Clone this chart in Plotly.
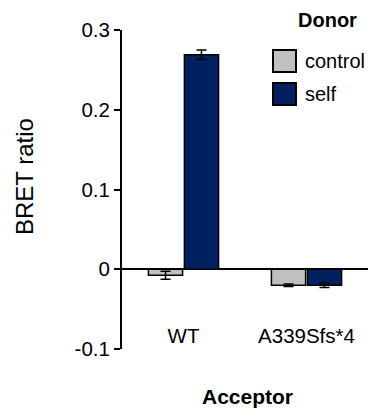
import plotly.graph_objects as go

# ---- data ----
acceptors = ["WT", "A339Sfs*4"]
donors = ["control", "self"]
control_vals = [-0.0075, -0.020]
control_err = [0.005, 0.0015]
self_vals = [0.269, -0.020]
self_err = [0.006, 0.003]
ytick_vals = [0.3, 0.2, 0.1, 0, -0.1]
ytick_text = ["0.3", "0.2", "0.1", "0", "-0.1"]

colors = {"control": "#C0C0C0", "self": "#00205F"}
FONT = "Liberation Sans, Arial, sans-serif"

fig = go.Figure()
for name, vals, errs in [("control", control_vals, control_err), ("self", self_vals, self_err)]:
    fig.add_trace(go.Bar(
        x=acceptors, y=vals, name=name,
        marker=dict(color=colors[name], line=dict(color="black", width=1.5)),
        error_y=dict(type="data", array=errs, color="black", thickness=1.5, width=5),
        showlegend=False,
    ))

W, H = 371, 414
ml, mr, mt, mb = 122, 3, 30, 65
pw, ph = W - ml - mr, H - mt - mb

def px(x):
    return (x - ml) / pw

def py(y):
    return (H - mb - y) / ph

fig.update_layout(
    width=W, height=H,
    margin=dict(l=ml, r=mr, t=mt, b=mb),
    paper_bgcolor="white", plot_bgcolor="white",
    barmode="group", bargap=0.415, bargroupgap=0.05,
    font=dict(family=FONT, color="black", size=20),
    xaxis=dict(
        showline=False, showgrid=False, zeroline=False, ticks="",
        anchor="free", position=0.085,
        tickfont=dict(size=20.5), range=[-0.5, 1.5],
    ),
    yaxis=dict(
        range=[-0.1, 0.3], tickvals=ytick_vals, ticktext=ytick_text,
        showline=True, linecolor="black", linewidth=2,
        ticks="outside", ticklen=6, tickwidth=2, tickcolor="black",
        showgrid=False, zeroline=True, zerolinecolor="black", zerolinewidth=2,
        tickfont=dict(size=20.5),
    ),
)

annotations = [
    dict(text="BRET ratio", xref="paper", yref="paper", x=px(24), y=py(177),
         textangle=-90, showarrow=False, font=dict(size=24), xanchor="center", yanchor="middle"),
    dict(text="<b>Acceptor</b>", xref="paper", yref="paper", x=px(247), y=py(397),
         showarrow=False, font=dict(size=21), xanchor="center", yanchor="middle"),
    dict(text="<b>Donor</b>", xref="paper", yref="paper", x=px(327), y=py(20),
         showarrow=False, font=dict(size=20), xanchor="center", yanchor="middle"),
]
shapes = []
legend_rows = [(50, 72), (83, 105)]
for name, (y0, y1) in zip(donors, legend_rows):
    shapes.append(dict(type="rect", xref="paper", yref="paper",
                       x0=px(273), x1=px(296), y0=py(y1), y1=py(y0),
                       fillcolor=colors[name], line=dict(color="black", width=2)))
    annotations.append(dict(text=name, xref="paper", yref="paper", x=px(303), y=py((y0 + y1) / 2),
                            showarrow=False, font=dict(size=20), xanchor="left", yanchor="middle"))
fig.update_layout(annotations=annotations, shapes=shapes)

fig.write_html("out.html", config={"displayModeBar": False},
               post_script="document.body.style.margin='0';document.body.style.overflow='hidden';")
